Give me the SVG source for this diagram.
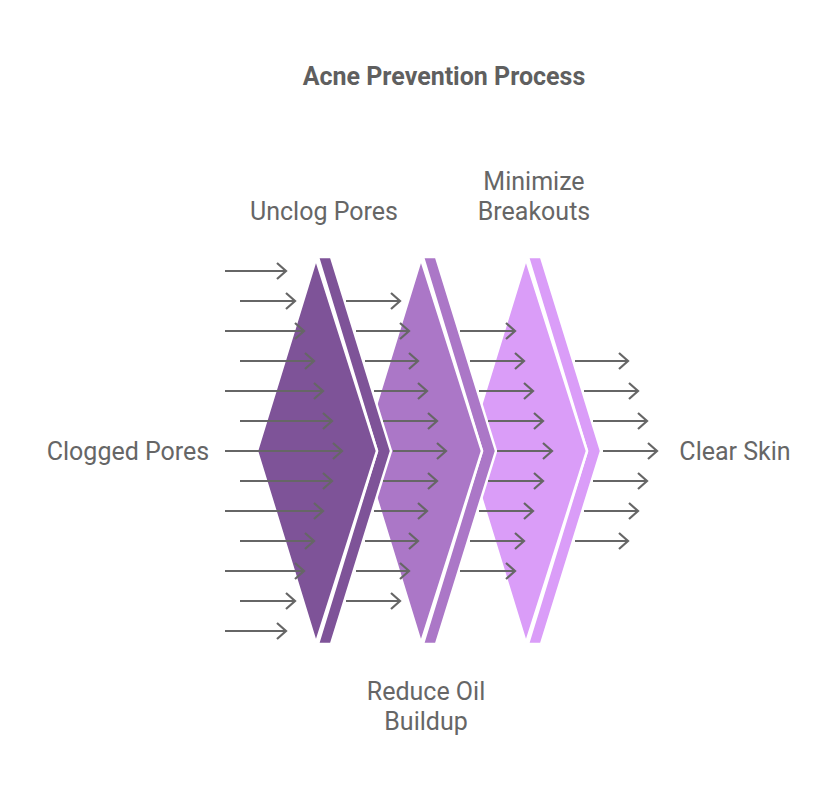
<svg xmlns="http://www.w3.org/2000/svg" width="828" height="798" viewBox="0 0 828 798">
<style>
  .lbl { font-family: Roboto, "Liberation Sans", sans-serif; font-size: 25px; fill: #666666; text-anchor: middle; }
  .title { font-family: Roboto, "Liberation Sans", sans-serif; font-size: 25px; font-weight: bold; fill: #5f5f5f; text-anchor: middle; }
  .shp { stroke: #ffffff; stroke-width: 2.5; stroke-linejoin: miter; }
  .s1 { fill: #7e5398; }
  .s2 { fill: #ab77c7; }
  .s3 { fill: #da9df8; }
  .arr { stroke: #666666; stroke-width: 2.2; fill: none; marker-end: url(#ah); }
</style>
<defs>
  <marker id="ah" markerUnits="userSpaceOnUse" viewBox="0 0 12 20" markerWidth="12" markerHeight="20" refX="10" refY="10" orient="auto">
    <path d="M1,2 L10,10 L1,18" fill="none" stroke="#666666" stroke-width="2.2"/>
  </marker>
</defs>
<rect width="828" height="798" fill="#ffffff"/>
<text class="title" x="444" y="85">Acne Prevention Process</text>

<g id="node-minimize-breakouts">
  <polygon class="shp s3" points="528,257 541,257 601,451 541,644 528,644 587,451"/>
  <polygon class="shp s3" points="526,259 587,451 526,643 467,451"/>
  <text class="lbl" x="534" y="190">Minimize</text>
  <text class="lbl" x="534" y="220">Breakouts</text>
</g>
<g id="node-reduce-oil">
  <polygon class="shp s2" points="423,257 436,257 496,451 436,644 423,644 482,451"/>
  <polygon class="shp s2" points="421,259 482,451 421,643 362,451"/>
  <text class="lbl" x="426" y="700">Reduce Oil</text>
  <text class="lbl" x="426" y="730">Buildup</text>
</g>
<g id="node-unclog-pores">
  <polygon class="shp s1" points="318,257 331,257 391,451 331,644 318,644 377,451"/>
  <polygon class="shp s1" points="316,259 377,451 316,643 257,451"/>
  <text class="lbl" x="324" y="220">Unclog Pores</text>
</g>
<g id="node-clogged-pores">
  <text class="lbl" x="128" y="460">Clogged Pores</text>
</g>
<g id="node-clear-skin">
  <text class="lbl" x="735" y="460">Clear Skin</text>
</g>

<g id="connectors">
  <path class="arr" d="M225,271 H286"/>
  <path class="arr" d="M240,301 H295"/>
  <path class="arr" d="M225,331 H304"/>
  <path class="arr" d="M240,361 H314"/>
  <path class="arr" d="M225,391 H323"/>
  <path class="arr" d="M240,421 H332"/>
  <path class="arr" d="M225,451 H342"/>
  <path class="arr" d="M240,481 H332"/>
  <path class="arr" d="M225,511 H323"/>
  <path class="arr" d="M240,541 H314"/>
  <path class="arr" d="M225,571 H304"/>
  <path class="arr" d="M240,601 H295"/>
  <path class="arr" d="M225,631 H286"/>

  <path class="arr" d="M346,301 H400"/>
  <path class="arr" d="M356,331 H409"/>
  <path class="arr" d="M365,361 H418"/>
  <path class="arr" d="M374,391 H427"/>
  <path class="arr" d="M383,421 H437"/>
  <path class="arr" d="M393,451 H446"/>
  <path class="arr" d="M383,481 H437"/>
  <path class="arr" d="M374,511 H427"/>
  <path class="arr" d="M365,541 H418"/>
  <path class="arr" d="M356,571 H409"/>
  <path class="arr" d="M346,601 H400"/>

  <path class="arr" d="M460,331 H515"/>
  <path class="arr" d="M470,361 H524"/>
  <path class="arr" d="M479,391 H533"/>
  <path class="arr" d="M488,421 H543"/>
  <path class="arr" d="M497,451 H552"/>
  <path class="arr" d="M488,481 H543"/>
  <path class="arr" d="M479,511 H533"/>
  <path class="arr" d="M470,541 H524"/>
  <path class="arr" d="M460,571 H515"/>

  <path class="arr" d="M575,361 H628"/>
  <path class="arr" d="M584,391 H638"/>
  <path class="arr" d="M593,421 H647"/>
  <path class="arr" d="M603,451 H657"/>
  <path class="arr" d="M593,481 H647"/>
  <path class="arr" d="M584,511 H638"/>
  <path class="arr" d="M575,541 H628"/>
</g>
</svg>
